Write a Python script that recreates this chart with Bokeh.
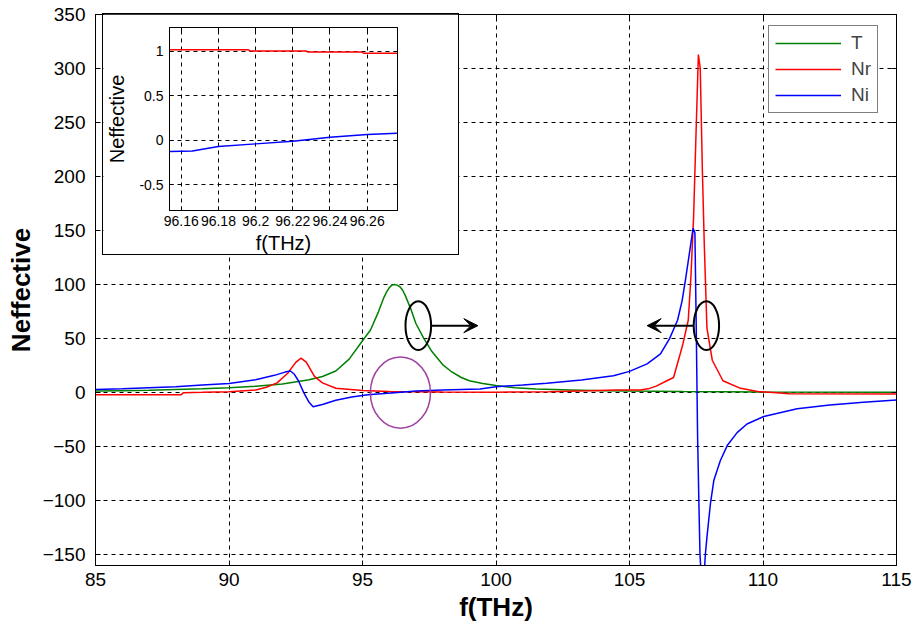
from bokeh.plotting import figure
from bokeh.models import (Range1d, LinearAxis, FixedTicker, Legend, LegendItem,
                          Arrow, VeeHead, NumeralTickFormatter, CustomJSTickFormatter)
from bokeh.embed import file_html
from bokeh.resources import INLINE

# ---------------- data ----------------
f_T = [85, 86, 87, 88, 89, 90, 91, 92, 93, 93.5, 94, 94.5, 95, 95.3, 95.6, 95.8,
       95.9, 96.0, 96.1, 96.2, 96.3, 96.4, 96.5, 96.6, 96.7, 96.8, 97.0, 97.3,
       97.6, 98.0, 98.3, 98.7, 99.0, 99.5, 100, 100.7, 101.5, 102.8, 104, 105,
       107, 110, 115]
T = [1.5, 1.8, 2.2, 2.8, 3.5, 4.5, 6, 8, 12, 15, 20, 31, 48, 58, 75, 88,
     93, 97, 99.5, 100, 99.5, 98, 95, 90, 84, 78, 64, 50,
     38, 26, 20, 14, 11, 8.5, 6.5, 4.5, 3.3, 2.5, 1.8, 1.5,
     1.0, 0.6, 0.3]

f_Nr = [85, 88.2, 88.3, 89, 90, 91, 91.4, 91.8, 92.2, 92.5, 92.7, 92.9, 93.2, 93.5,
        94, 95, 96, 98, 100, 102, 103.5, 104.5, 105.4, 105.7, 106.0, 106.4, 106.65,
        106.9, 107.0, 107.2, 107.3, 107.4, 107.48, 107.58, 107.65, 107.73, 107.8,
        107.9, 108.1, 108.5, 109.16, 109.8, 110.5, 111, 115]
Nr = [-2, -2, 0, 0.3, 0.8, 2.5, 5, 9, 18, 28, 32, 28, 15, 9,
      4, 2, 1, 0.5, 0.4, 0.8, 1.8, 2.5, 2.5, 3.5, 6, 11, 14,
      36, 45, 67, 107, 162, 230, 313, 300, 205, 138,
      60, 30, 11, 4, 1, 0, -1, -1.2]

f_Ni = [85, 86, 87, 88, 89, 90, 91, 91.7, 92.1, 92.3, 92.45, 92.6, 92.8, 93.0, 93.15,
        93.5, 94, 94.6, 95.2, 96.2, 97, 98, 99.4, 100, 101, 101.9, 103.2, 104.4, 105,
        105.66, 106.16, 106.5, 106.8, 106.97, 107.1, 107.25, 107.38, 107.45, 107.5,
        107.55, 107.6, 107.64, 107.7, 107.78, 107.84, 107.9, 108.03, 108.16, 108.4,
        108.66, 109.03, 109.4, 110.03, 111.28, 112.5, 113.76, 115]
Ni = [3, 3.5, 4.5, 5.5, 7, 8.5, 12, 16, 19, 20, 17, 11, 0, -9, -13,
      -11, -7, -4, -2, 0, 1.5, 2.5, 3.4, 5.5, 7, 8.6, 11.7, 15.7, 19.7,
      26.6, 35.8, 50, 67, 85, 105, 130, 152, 148, 60,
      -40, -103, -150, -175, -175, -150, -134, -103, -81, -63,
      -49, -37, -29, -22, -15, -11.4, -9, -6.8]

# inset (zoom around 96.2 THz)
fi_Nr = [96.154, 96.196, 96.197, 96.227, 96.228, 96.257, 96.258, 96.276]
Nr_in = [1.02, 1.02, 1.005, 1.005, 0.995, 0.995, 0.98, 0.98]
fi_Ni = [96.154, 96.166, 96.18, 96.2, 96.22, 96.24, 96.26, 96.276]
Ni_in = [-0.125, -0.12, -0.07, -0.04, -0.01, 0.035, 0.065, 0.08]

x_ticks = [85, 90, 95, 100, 105, 110, 115]
y_ticks = [-150, -100, -50, 0, 50, 100, 150, 200, 250, 300, 350]
xi_ticks = [96.16, 96.18, 96.2, 96.22, 96.24, 96.26]
yi_ticks = [-0.5, 0, 0.5, 1]

# annotations (ellipses, arrows, purple circle) in data units
ell_x = [97.09, 107.88]
ell_y = [62, 62]
ell_w = [0.96, 0.95]
ell_h = [45, 45]
arr_x0 = [97.57, 107.39]
arr_x1 = [99.32, 105.66]
arr_y = [62, 62]
circ_x = [96.42]
circ_y = [0]
circ_w = [2.25]
circ_h = [66]

GREEN, RED, BLUE = "#008000", "#ff0000", "#0000ff"
FONT = "Liberation Sans"
BLANK = CustomJSTickFormatter(code="return ''")


def box_axis(tk, tick_len):
    return LinearAxis(ticker=tk, formatter=BLANK, major_tick_in=tick_len,
                      major_tick_out=0, minor_tick_in=0, minor_tick_out=0,
                      major_label_text_font_size="1px", major_label_standoff=0,
                      axis_line_color="black", major_tick_line_color="black")


# ---------------- main figure ----------------
p = figure(width=916, height=630, output_backend="svg", toolbar_location=None,
           x_range=Range1d(85, 115), y_range=Range1d(-160, 350),
           min_border_left=95, min_border_right=20, min_border_top=14,
           min_border_bottom=65, background_fill_color="white",
           border_fill_color="white")
p.outline_line_color = "black"
p.outline_line_width = 1
p.styles = {"position": "absolute", "left": "0px", "top": "0px"}

xt = FixedTicker(ticks=x_ticks, minor_ticks=[])
yt = FixedTicker(ticks=y_ticks, minor_ticks=[])

for ax, tk in ((p.xaxis[0], xt), (p.yaxis[0], yt)):
    ax.ticker = tk
    ax.major_tick_in = 5
    ax.major_tick_out = 0
    ax.minor_tick_in = 0
    ax.minor_tick_out = 0
    ax.axis_line_color = "black"
    ax.major_tick_line_color = "black"
    ax.major_label_text_font = FONT
    ax.major_label_text_font_size = "19px"
    ax.major_label_text_color = "black"
    ax.axis_label_text_font = FONT
    ax.axis_label_text_font_size = "26px"
    ax.axis_label_text_font_style = "bold"
    ax.axis_label_text_color = "black"

p.xaxis[0].axis_label = "f(THz)"
p.xaxis[0].major_label_standoff = 7
p.xaxis[0].axis_label_standoff = 3
p.yaxis[0].axis_label = "Neffective"
p.yaxis[0].major_label_standoff = 10
p.yaxis[0].axis_label_standoff = 4

p.add_layout(box_axis(yt, 5), "right")
p.add_layout(box_axis(xt, 5), "above")

for g, tk in ((p.xgrid[0], xt), (p.ygrid[0], yt)):
    g.ticker = tk
    g.grid_line_color = "black"
    g.grid_line_dash = "4 4"
    g.grid_line_width = 1

rT = p.line(f_T, T, color=GREEN, line_width=1.5)
rNr = p.line(f_Nr, Nr, color=RED, line_width=1.5)
rNi = p.line(f_Ni, Ni, color=BLUE, line_width=1.5)

p.ellipse(x=circ_x, y=circ_y, width=circ_w, height=circ_h,
          fill_color=None, line_color="#a040a0", line_width=1.5)
p.ellipse(x=ell_x, y=ell_y, width=ell_w, height=ell_h,
          fill_color=None, line_color="black", line_width=2)
for x0, x1, yy in zip(arr_x0, arr_x1, arr_y):
    p.add_layout(Arrow(end=VeeHead(size=14, fill_color="black", line_color="black"),
                       x_start=x0, y_start=yy, x_end=x1, y_end=yy,
                       line_color="black", line_width=2))

legend = Legend(items=[LegendItem(label="T", renderers=[rT]),
                       LegendItem(label="Nr", renderers=[rNr]),
                       LegendItem(label="Ni", renderers=[rNi])],
                location=(673, 452), orientation="vertical",
                border_line_color="black", border_line_width=1,
                background_fill_color="white", background_fill_alpha=1.0,
                label_text_font=FONT, label_text_font_size="19px",
                glyph_width=66, glyph_height=18, label_height=18, spacing=4,
                padding=6, margin=0, label_standoff=10)
p.add_layout(legend, "center")

# ---------------- inset figure ----------------
ins = figure(width=357, height=242, output_backend="svg", toolbar_location=None,
             x_range=Range1d(96.1537, 96.2763), y_range=Range1d(-0.79, 1.27),
             min_border_left=61, min_border_right=63, min_border_top=13,
             min_border_bottom=46, background_fill_color="white",
             border_fill_color="white")
ins.styles = {"position": "absolute", "left": "102px", "top": "13px",
              "border": "1px solid black", "z-index": "5"}
ins.outline_line_color = "black"

xit = FixedTicker(ticks=xi_ticks, minor_ticks=[])
yit = FixedTicker(ticks=yi_ticks, minor_ticks=[])
for ax, tk, fmt in ((ins.xaxis[0], xit, "0.[00]"), (ins.yaxis[0], yit, "0.[0]")):
    ax.ticker = tk
    ax.formatter = NumeralTickFormatter(format=fmt)
    ax.major_tick_in = 4
    ax.major_tick_out = 0
    ax.minor_tick_in = 0
    ax.minor_tick_out = 0
    ax.axis_line_color = "black"
    ax.major_label_text_font = FONT
    ax.major_label_text_font_size = "14px"
    ax.major_label_text_color = "black"
    ax.axis_label_text_font = FONT
    ax.axis_label_text_font_size = "20px"
    ax.axis_label_text_font_style = "normal"
    ax.axis_label_text_color = "black"
ins.xaxis[0].axis_label = "f(THz)"
ins.xaxis[0].major_label_standoff = 5
ins.xaxis[0].axis_label_standoff = 3
ins.yaxis[0].axis_label = "Neffective"
ins.yaxis[0].major_label_standoff = 6
ins.yaxis[0].axis_label_standoff = 8

ins.add_layout(box_axis(yit, 4), "right")
ins.add_layout(box_axis(xit, 4), "above")

for g, tk in ((ins.xgrid[0], xit), (ins.ygrid[0], yit)):
    g.ticker = tk
    g.grid_line_color = "black"
    g.grid_line_dash = "4 4"
    g.grid_line_width = 1

ins.line(fi_Nr, Nr_in, color=RED, line_width=1.5)
ins.line(fi_Ni, Ni_in, color=BLUE, line_width=1.5)

open("out.html", "w").write(file_html([p, ins], INLINE))
